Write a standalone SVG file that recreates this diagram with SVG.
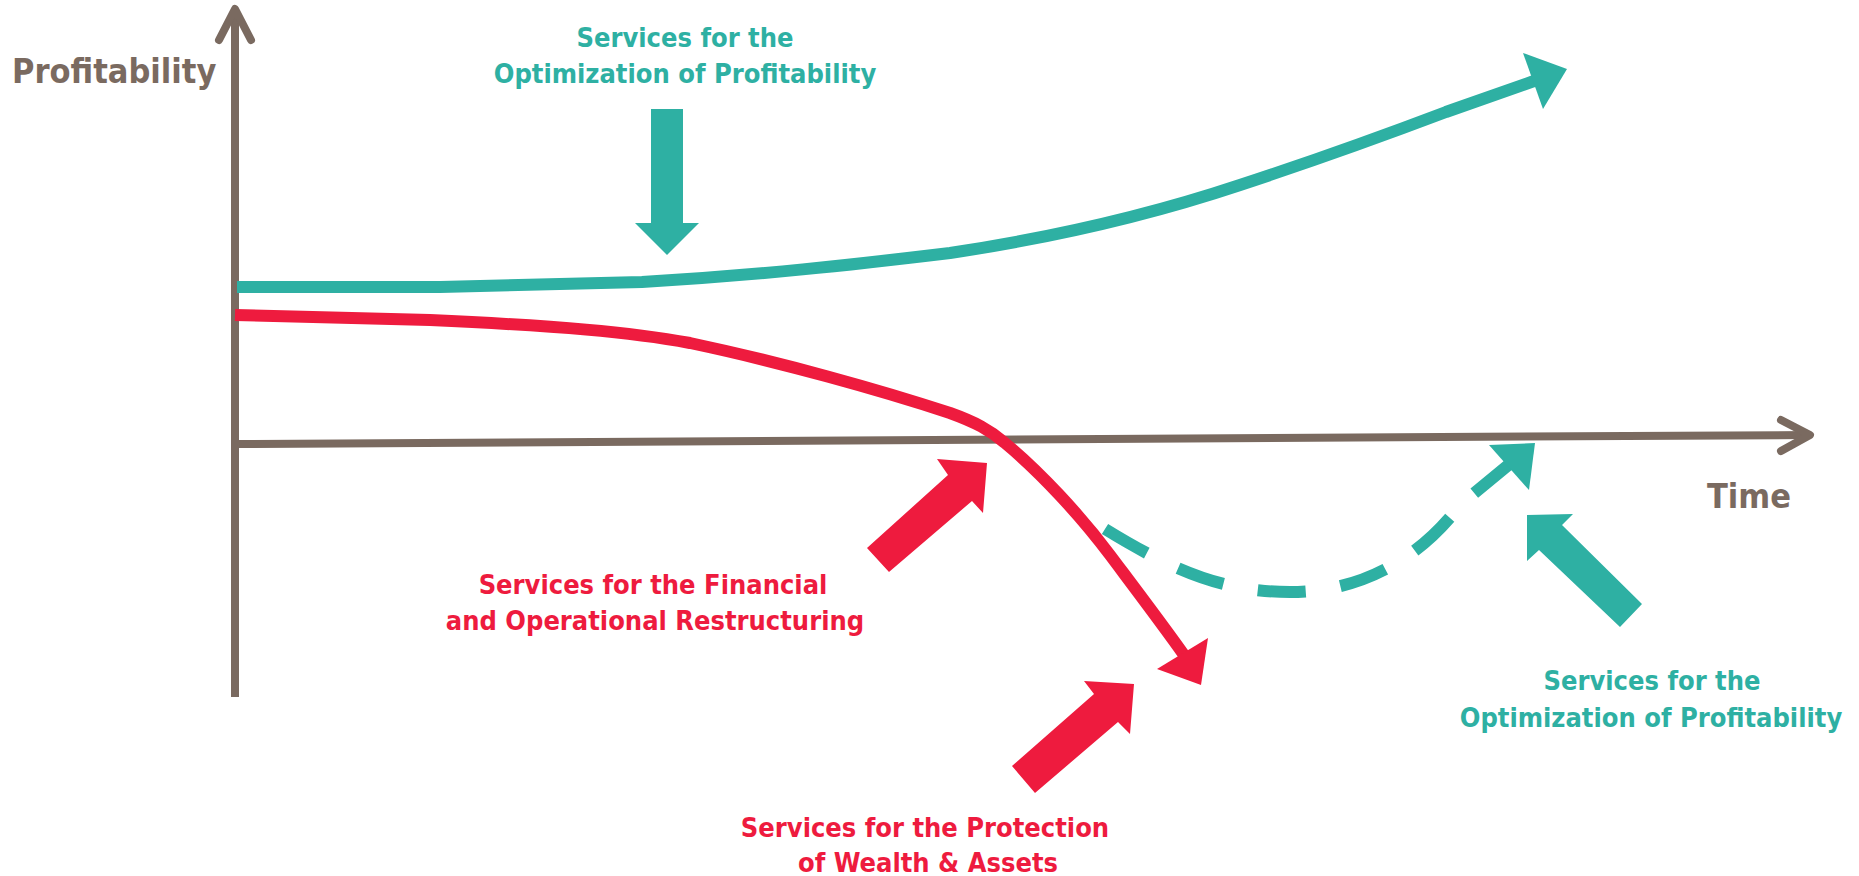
<svg xmlns="http://www.w3.org/2000/svg" width="1859" height="876" viewBox="0 0 1859 876">
<style>
.lbl{font-family:"DejaVu Sans Condensed","DejaVu Sans",sans-serif;font-stretch:condensed;font-weight:bold;font-size:27px;text-anchor:middle}
.teal{fill:#2EB0A3}
.red{fill:#EE1B3E}
.ax{font-family:"DejaVu Sans Condensed","DejaVu Sans",sans-serif;font-stretch:condensed;font-weight:bold;font-size:34px;fill:#7A6A60}
.axis{stroke:#7A6A60;fill:none;stroke-width:8}
</style>
<rect width="1859" height="876" fill="#fff"/>
<g id="axes">
  <line class="axis" x1="235" y1="9" x2="235" y2="697"/>
  <polyline class="axis" points="219,40 235,9 251,40" stroke-linecap="round" stroke-linejoin="round"/>
  <line class="axis" x1="235" y1="444" x2="1808" y2="435"/>
  <polyline class="axis" points="1781,420 1810,435 1781,451" stroke-linecap="round" stroke-linejoin="round"/>
  <text class="ax" x="12" y="83">Profitability</text>
  <text class="ax" x="1707" y="508">Time</text>
</g>
<g id="connectors">
  <path id="teal-dashed" d="M1105,529 C1175,572 1225,592 1290,592 C1375,592 1430,545 1460,505 L1512,462" fill="none" stroke="#2EB0A3" stroke-width="12" stroke-dasharray="48 35"/>
  <polygon class="teal" points="1489,445 1535,443 1529,490"/>
  <path id="teal-curve" d="M237,287 L440,287 L642,282 C760,275 850,265 950,253 C1050,238 1150,215 1240,185 C1310,162 1380,137 1446,112 L1534,81" fill="none" stroke="#2EB0A3" stroke-width="12"/>
  <polygon class="teal" points="1523,53 1567,69 1543,109"/>
  <path id="red-curve" d="M235,315 L430,320 C560,326 630,332 690,343 C780,362 880,390 950,413 C975,422 990,430 1005,443 C1040,472 1080,515 1110,555 C1140,595 1165,628 1184,655" fill="none" stroke="#EE1B3E" stroke-width="12"/>
  <polygon class="red" points="1208,638 1201,685 1157,669"/>
</g>
<g id="node-opt-top">
  <polygon class="teal" points="651,109 683,109 683,223 699,223 667,255 635,223 651,223"/>
  <text class="lbl teal" x="685" y="47">Services for the</text>
  <text class="lbl teal" x="685" y="83">Optimization of Profitability</text>
</g>
<g id="node-restructuring">
  <polygon class="red" points="867,548 948,475 937,459 987,463 983,513 972,501 889,572"/>
  <text class="lbl red" x="653" y="594">Services for the Financial</text>
  <text class="lbl red" x="655" y="630">and Operational Restructuring</text>
</g>
<g id="node-protection">
  <polygon class="red" points="1012,766 1094,694 1084,681 1134,684 1130,734 1118,722 1035,793"/>
  <text class="lbl red" x="925" y="837">Services for the Protection</text>
  <text class="lbl red" x="928" y="872">of Wealth &amp; Assets</text>
</g>
<g id="node-opt-bottom">
  <polygon class="teal" points="1527,515 1573,514 1562,525 1642,604 1620,627 1539,550 1527,561"/>
  <text class="lbl teal" x="1652" y="690">Services for the</text>
  <text class="lbl teal" x="1651" y="727">Optimization of Profitability</text>
</g>
</svg>
